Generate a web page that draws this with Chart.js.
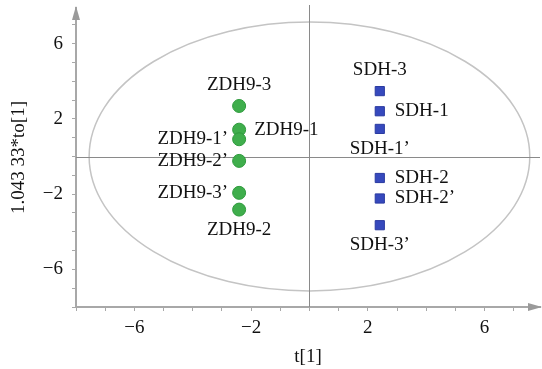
<!DOCTYPE html>
<html>
<head>
<meta charset="utf-8">
<script src="https://cdn.jsdelivr.net/npm/chart.js@4"></script>
<style>
  html, body { margin: 0; padding: 0; background: #fff; }
  #wrap { width: 542px; height: 369px; }
</style>
</head>
<body>
<div id="wrap"><canvas id="plsChart"></canvas></div>
<script>
// scores: t[1] on x, orthogonal component on y
const zdhNames = ['ZDH9-3', 'ZDH9-1', 'ZDH9-1\u2019', 'ZDH9-2\u2019', 'ZDH9-3\u2019', 'ZDH9-2'];
const zdhT = [-2.41, -2.41, -2.41, -2.41, -2.41, -2.41];
const zdhTo = [2.69, 1.43, 0.92, -0.23, -1.93, -2.82];
const zdhSide = ['top', 'right', 'left', 'left', 'left', 'bottom'];

const sdhNames = ['SDH-3', 'SDH-1', 'SDH-1\u2019', 'SDH-2', 'SDH-2\u2019', 'SDH-3\u2019'];
const sdhT = [2.41, 2.41, 2.41, 2.41, 2.41, 2.41];
const sdhTo = [3.48, 2.41, 1.47, -1.14, -2.23, -3.65];
const sdhSide = ['top', 'right', 'bottom', 'right', 'right', 'bottom'];

// Hotelling T2 ellipse radii (axis units)
const ellipseRx = 7.55;
const ellipseRy = 7.15;

const labeledTicks = [-6, -2, 2, 6];

const FONT = '"Liberation Serif", "Times New Roman", serif';
const AXIS_GRAY = '#a8a8a8';

function toPoints(xs, ys) {
    return xs.map((x, i) => ({ x: x, y: ys[i] }));
}

function fmtTick(v) {
    if (!labeledTicks.includes(v)) return '';
    return v < 0 ? '\u2212' + Math.abs(v) : String(v);
}

const decorPlugin = {
    id: 'decor',
    beforeDatasetsDraw(chart) {
        const ctx = chart.ctx;
        const a = chart.chartArea;
        const xs = chart.scales.x, ys = chart.scales.y;
        const cx = xs.getPixelForValue(0), cy = ys.getPixelForValue(0);

        ctx.save();
        // ellipse
        ctx.strokeStyle = '#c4c4c4';
        ctx.lineWidth = 1.5;
        ctx.beginPath();
        ctx.ellipse(cx, cy,
            Math.abs(xs.getPixelForValue(ellipseRx) - cx),
            Math.abs(ys.getPixelForValue(ellipseRy) - cy),
            0, 0, Math.PI * 2);
        ctx.stroke();

        // zero lines
        ctx.strokeStyle = '#8a8a8a';
        ctx.lineWidth = 1;
        ctx.beginPath();
        ctx.moveTo(Math.round(cx) + 0.5, a.top - 3);
        ctx.lineTo(Math.round(cx) + 0.5, a.bottom);
        ctx.moveTo(a.left, Math.round(cy) + 0.5);
        ctx.lineTo(a.right, Math.round(cy) + 0.5);
        ctx.stroke();
        ctx.restore();
    },
    afterDatasetsDraw(chart) {
        const ctx = chart.ctx;
        ctx.save();
        ctx.font = '19px ' + FONT;
        ctx.fillStyle = '#111';
        const groups = [[0, zdhNames, zdhSide], [1, sdhNames, sdhSide]];
        groups.forEach(([di, names, sides]) => {
            const meta = chart.getDatasetMeta(di);
            meta.data.forEach((pt, i) => {
                const side = sides[i];
                let x = pt.x, y = pt.y;
                if (side === 'top') {
                    ctx.textAlign = 'center'; ctx.textBaseline = 'middle'; y -= 21;
                } else if (side === 'bottom') {
                    ctx.textAlign = 'center'; ctx.textBaseline = 'middle'; y += 20;
                } else if (side === 'right') {
                    ctx.textAlign = 'left'; ctx.textBaseline = 'middle'; x += 15;
                } else {
                    ctx.textAlign = 'right'; ctx.textBaseline = 'middle'; x -= 11;
                }
                ctx.fillText(names[i], x, y);
            });
        });
        ctx.restore();
    },
    afterDraw(chart) {
        const ctx = chart.ctx;
        const a = chart.chartArea;
        ctx.save();
        ctx.fillStyle = '#9a9a9a';
        // x arrow
        ctx.beginPath();
        ctx.moveTo(a.right + 2, a.bottom);
        ctx.lineTo(a.right - 12, a.bottom - 4);
        ctx.lineTo(a.right - 12, a.bottom + 4);
        ctx.closePath();
        ctx.fill();
        // y arrow
        ctx.beginPath();
        ctx.moveTo(a.left, a.top - 2);
        ctx.lineTo(a.left - 4, a.top + 12);
        ctx.lineTo(a.left + 4, a.top + 12);
        ctx.closePath();
        ctx.fill();
        ctx.restore();
    }
};

new Chart(document.getElementById('plsChart'), {
    type: 'scatter',
    data: {
        datasets: [{
            label: 'ZDH9',
            data: toPoints(zdhT, zdhTo),
            pointStyle: 'circle',
            pointRadius: 6.5,
            backgroundColor: '#3fae4c',
            borderColor: '#2f9a3d',
            borderWidth: 1
        }, {
            label: 'SDH',
            data: toPoints(sdhT, sdhTo),
            pointStyle: 'rect',
            pointRadius: 6.5,
            backgroundColor: '#3649bd',
            borderColor: '#2a3aa0',
            borderWidth: 1
        }]
    },
    options: {
        responsive: true,
        maintainAspectRatio: false,
        animation: false,
        layout: { autoPadding: false, padding: { top: 8, right: 2, left: 0, bottom: 0 } },
        plugins: {
            legend: { display: false },
            tooltip: { enabled: false }
        },
        scales: {
            x: {
                type: 'linear',
                min: -8,
                max: 7.9,
                afterFit: s => {
                    s.height = 62;
                    s.paddingLeft = 0;
                    s.paddingRight = 0;
                },
                border: { color: AXIS_GRAY, width: 2 },
                grid: { drawOnChartArea: false, color: AXIS_GRAY, tickLength: 4 },
                ticks: {
                    stepSize: 1,
                    includeBounds: false,
                    autoSkip: false,
                    maxRotation: 0,
                    padding: 6,
                    color: '#111',
                    font: { family: FONT, size: 19 },
                    callback: v => fmtTick(v)
                },
                title: {
                    display: true,
                    text: 't[1]',
                    color: '#111',
                    font: { family: FONT, size: 19 },
                    padding: { top: 0, bottom: 1 }
                }
            },
            y: {
                type: 'linear',
                min: -8,
                max: 7.9,
                afterFit: s => {
                    s.width = 76;
                    s.paddingTop = 0;
                    s.paddingBottom = 0;
                },
                border: { color: AXIS_GRAY, width: 2 },
                grid: { drawOnChartArea: false, color: AXIS_GRAY, tickLength: 4 },
                ticks: {
                    stepSize: 1,
                    includeBounds: false,
                    autoSkip: false,
                    padding: 9,
                    color: '#111',
                    font: { family: FONT, size: 19 },
                    callback: v => fmtTick(v)
                },
                title: {
                    display: true,
                    text: '1.043 33*to[1]',
                    color: '#111',
                    font: { family: FONT, size: 19 },
                    padding: { top: 8, bottom: 0 }
                }
            }
        }
    },
    plugins: [decorPlugin]
});
</script>
</body>
</html>
